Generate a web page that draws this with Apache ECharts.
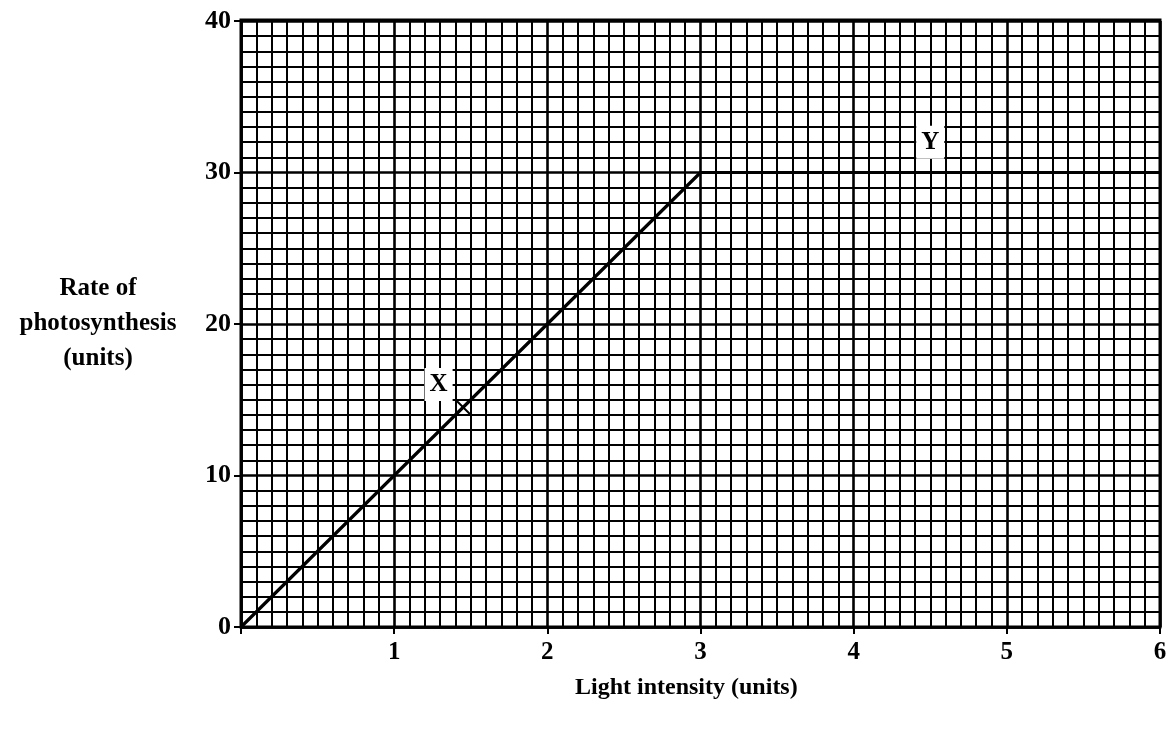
<!DOCTYPE html>
<html>
<head>
<meta charset="utf-8">
<script src="https://cdn.jsdelivr.net/npm/echarts@6/dist/echarts.min.js"></script>
<style>
html,body{margin:0;padding:0;background:#fff;}
#chart{width:1170px;height:735px;}
</style>
</head>
<body>
<div id="chart"></div>
<script>
// Data
var lightIntensity = [0, 3, 6];
var rate = [0, 30, 30];
var annotationNames = ['X', 'Y'];
var annotationX = [1.29, 4.5];
var annotationY = [16, 32];
var crossMark = [[1.45, 14.5]];
var xTitle = 'Light intensity (units)';
var yTitle = 'Rate of\nphotosynthesis\n(units)';

var FONT = '"Liberation Serif", "DejaVu Serif", serif';
var chart = echarts.init(document.getElementById('chart'), null, {renderer: 'canvas'});

var lineData = lightIntensity.map(function (x, i) { return [x, rate[i]]; });
var annData = annotationNames.map(function (n, i) { return {name: n, value: [annotationX[i], annotationY[i]]}; });

var option = {
  backgroundColor: '#fff',
  animation: false,
  grid: {left: 241, right: 10, top: 21, bottom: 108, show: false},
  xAxis: {
    type: 'value', min: 0, max: 6, interval: 1,
    axisLine: {show: true, onZero: false, lineStyle: {color: '#000', width: 2.5}},
    axisTick: {show: true, length: 7, lineStyle: {color: '#000', width: 2}},
    axisLabel: {showMinLabel: false, margin: 13, color: '#000', fontFamily: FONT, fontSize: 25, fontWeight: 'bold'},
    splitLine: {show: true, lineStyle: {color: '#000', width: 2.6}},
    minorTick: {show: true, splitNumber: 10, length: 0},
    minorSplitLine: {show: true, lineStyle: {color: '#000', width: 2}}
  },
  yAxis: {
    type: 'value', min: 0, max: 40, interval: 10,
    name: yTitle, nameLocation: 'middle', nameGap: 143, nameRotate: 0,
    nameTextStyle: {color: '#000', fontFamily: FONT, fontSize: 25, fontWeight: 'bold', align: 'center', lineHeight: 35},
    axisLine: {show: true, onZero: false, lineStyle: {color: '#000', width: 2.5}},
    axisTick: {show: true, length: 7, lineStyle: {color: '#000', width: 2}},
    axisLabel: {margin: 10, color: '#000', fontFamily: FONT, fontSize: 26, fontWeight: 'bold'},
    splitLine: {show: true, lineStyle: {color: '#000', width: 2.6}},
    minorTick: {show: true, splitNumber: 10, length: 0},
    minorSplitLine: {show: true, lineStyle: {color: '#000', width: 2}}
  },
  graphic: [
    {type: 'text', left: 575, top: 676, style: {text: xTitle, fill: '#000', font: 'bold 24px ' + FONT}},
    {type: 'rect', shape: {x: 241, y: 20, width: 919, height: 607}, style: {fill: 'none', stroke: '#000', lineWidth: 3}, z: 5}
  ],
  series: [
    {
      type: 'line', data: lineData, symbol: 'none', z: 3,
      lineStyle: {color: '#000', width: 3.2}
    },
    {
      type: 'scatter', data: crossMark, z: 4,
      symbol: 'path://M0,0L10,10M10,0L0,10', symbolSize: 14,
      itemStyle: {color: 'none', borderColor: '#000', borderWidth: 2, opacity: 1}
    },
    {
      type: 'scatter', data: annData, symbolSize: 1, z: 6,
      itemStyle: {color: 'rgba(0,0,0,0)', opacity: 1},
      label: {
        show: true, position: 'inside', formatter: '{b}',
        color: '#000', opacity: 1, fontFamily: FONT, fontSize: 25, fontWeight: 'bold',
        backgroundColor: '#fff', padding: [4, 5, 4, 5]
      }
    }
  ]
};
chart.setOption(option);
</script>
</body>
</html>
